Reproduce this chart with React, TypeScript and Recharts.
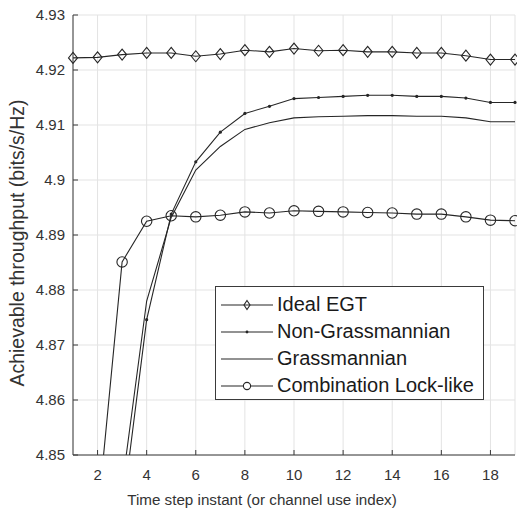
// Throughput vs. time step — four schemes, MATLAB-like boxed axes with inward ticks.

import { CartesianGrid, Legend, Line, LineChart, XAxis, YAxis } from 'recharts'

const timeSteps = [1, 2, 3, 4, 5, 6, 7, 8, 9, 10, 11, 12, 13, 14, 15, 16, 17, 18, 19]
const idealEgt = [
  4.9222, 4.9223, 4.9228, 4.9231, 4.9231, 4.9225, 4.9229, 4.9236, 4.9233, 4.9239, 4.9235, 4.9236, 4.9233, 4.9233,
  4.9231, 4.9231, 4.9226, 4.9219, 4.9219,
]
const nonGrassmannian = [
  null, null, 4.8393, 4.8746, 4.8938, 4.9033, 4.9087, 4.9121, 4.9134, 4.9148, 4.915, 4.9152, 4.9154, 4.9154, 4.9152,
  4.9152, 4.9149, 4.9141, 4.9141,
]
const grassmannian = [
  null, null, 4.8443, 4.878, 4.8932, 4.9018, 4.9061, 4.9092, 4.9104, 4.9113, 4.9115, 4.9116, 4.9117, 4.9117, 4.9116,
  4.9116, 4.9113, 4.9106, 4.9106,
]
const combinationLock = [
  null, 4.8386, 4.8851, 4.8925, 4.8935, 4.8933, 4.8936, 4.8942, 4.894, 4.8944, 4.8943, 4.8942, 4.8941, 4.894, 4.8938,
  4.8938, 4.8933, 4.8927, 4.8926,
]
const xTicks = [2, 4, 6, 8, 10, 12, 14, 16, 18]
const yTicks = [4.85, 4.86, 4.87, 4.88, 4.89, 4.9, 4.91, 4.92, 4.93]

const seriesNames = ['Ideal EGT', 'Non-Grassmannian', 'Grassmannian', 'Combination Lock-like']
const xTitle = 'Time step instant (or channel use index)'
const yTitle = 'Achievable throughput (bits/s/Hz)'

const data = timeSteps.map((t, i) => ({
  t,
  ideal: idealEgt[i],
  nonGrass: nonGrassmannian[i],
  grass: grassmannian[i],
  combo: combinationLock[i],
}))

const AXIS = '#3a3a3a'
const TEXT = '#333'
const LINE = '#262626'
const GRID = '#e3e3e3'
const FONT = '"Liberation Sans", Arial, Helvetica, sans-serif'

const fmtY = (v: number) => String(Number(v.toFixed(2)))

function BottomTick({ x, y, payload }: any) {
  return (
    <g>
      <line x1={x} x2={x} y1={y} y2={y - 5} stroke={AXIS} />
      <text x={x} y={y + 25} textAnchor="middle" fontSize={15} fill={TEXT} fontFamily={FONT}>
        {payload.value}
      </text>
    </g>
  )
}

function LeftTick({ x, y, payload }: any) {
  return (
    <g>
      <line x1={x} x2={x + 5} y1={y} y2={y} stroke={AXIS} />
      <text x={x - 8} y={y + 5} textAnchor="end" fontSize={15} fill={TEXT} fontFamily={FONT}>
        {fmtY(payload.value)}
      </text>
    </g>
  )
}

function TopTick({ x, y }: any) {
  return <line x1={x} x2={x} y1={y} y2={y + 5} stroke={AXIS} />
}

function RightTick({ x, y }: any) {
  return <line x1={x} x2={x - 5} y1={y} y2={y} stroke={AXIS} />
}

function Diamond({ cx, cy, w = 4.5, h = 5.5 }: any) {
  return <polygon points={`${cx},${cy - h} ${cx + w},${cy} ${cx},${cy + h} ${cx - w},${cy}`} fill="none" stroke={LINE} strokeWidth={1.1} />
}

const diamondDot = (p: any) =>
  p.cy == null ? <g key={`d${p.index}`} /> : <Diamond key={`d${p.index}`} cx={p.cx} cy={p.cy} />
const smallDot = (p: any) =>
  p.cy == null ? <g key={`s${p.index}`} /> : <circle key={`s${p.index}`} cx={p.cx} cy={p.cy} r={1.6} fill={LINE} />
const circleDot = (p: any) =>
  p.cy == null ? (
    <g key={`c${p.index}`} />
  ) : (
    <circle key={`c${p.index}`} cx={p.cx} cy={p.cy} r={5.2} fill="none" stroke={LINE} strokeWidth={1.1} />
  )

// axis titles sit a little off-centre in the source figure, so place them by hand
const XTitle = () => (
  <text x={262} y={505} textAnchor="middle" fontSize={15.2} fill={TEXT} fontFamily={FONT}>
    {xTitle}
  </text>
)
const YTitle = () => (
  <text
    x={24}
    y={243}
    transform="rotate(-90 24 243)"
    textAnchor="middle"
    fontSize={19.5}
    fill={TEXT}
    fontFamily={FONT}
  >
    {yTitle}
  </text>
)

function LegendBox() {
  const markers = [
    <Diamond cx={26} cy={10} w={3} h={4.5} />,
    <circle cx={26} cy={10} r={1.4} fill={LINE} />,
    null,
    <circle cx={26} cy={10} r={3.6} fill="white" stroke={LINE} strokeWidth={1.1} />,
  ]
  return (
    <div
      style={{
        width: 267,
        height: 108,
        border: `1px solid ${AXIS}`,
        background: 'white',
        boxSizing: 'content-box',
        paddingTop: 4,
        fontFamily: FONT,
        fontSize: 20,
        color: '#1a1a1a',
      }}
    >
      {seriesNames.map((name, i) => (
        <div key={name} style={{ display: 'flex', alignItems: 'center', height: 27 }}>
          <svg width={52} height={20} style={{ marginLeft: 5, flex: 'none' }}>
            <line x1={0} x2={52} y1={10} y2={10} stroke={LINE} strokeWidth={1.1} />
            {markers[i]}
          </svg>
          <span style={{ marginLeft: 4, whiteSpace: 'nowrap' }}>{name}</span>
        </div>
      ))}
    </div>
  )
}

export default function App() {
  return (
    <div style={{ position: 'absolute', left: 0, top: 0, background: 'white' }}>
      <LineChart width={517} height={511} data={data} margin={{ top: 15, right: 2, bottom: 0, left: 0 }}>
        <CartesianGrid stroke={GRID} />
        <XAxis
          dataKey="t"
          type="number"
          domain={[1, 19]}
          ticks={xTicks}
          height={56}
          stroke={AXIS}
          tickLine={false}
          tickSize={0}
          tickMargin={0}
          tick={<BottomTick />}
          label={{ content: <XTitle /> }}
        />
        <XAxis
          xAxisId="top"
          orientation="top"
          dataKey="t"
          type="number"
          domain={[1, 19]}
          ticks={xTicks}
          height={0}
          stroke={AXIS}
          tickLine={false}
          tickSize={0}
          tickMargin={0}
          tick={<TopTick />}
        />
        <YAxis
          type="number"
          domain={[4.85, 4.93]}
          ticks={yTicks}
          allowDataOverflow
          width={73}
          stroke={AXIS}
          tickLine={false}
          tickSize={0}
          tickMargin={0}
          tick={<LeftTick />}
          label={{ content: <YTitle /> }}
        />
        <YAxis
          yAxisId="right"
          orientation="right"
          type="number"
          domain={[4.85, 4.93]}
          ticks={yTicks}
          allowDataOverflow
          width={0}
          stroke={AXIS}
          tickLine={false}
          tickSize={0}
          tickMargin={0}
          tick={<RightTick />}
        />
        <Legend
          layout="vertical"
          align="center"
          verticalAlign="middle"
          wrapperStyle={{ left: 215, top: 286, width: 269, height: 114 }}
          content={() => <LegendBox />}
        />
        <Line
          dataKey="ideal"
          name={seriesNames[0]}
          stroke={LINE}
          strokeWidth={1.1}
          dot={diamondDot}
          activeDot={false}
          isAnimationActive={false}
        />
        <Line
          dataKey="nonGrass"
          name={seriesNames[1]}
          stroke={LINE}
          strokeWidth={1.1}
          dot={smallDot}
          activeDot={false}
          isAnimationActive={false}
        />
        <Line
          dataKey="grass"
          name={seriesNames[2]}
          stroke={LINE}
          strokeWidth={1.1}
          dot={false}
          activeDot={false}
          isAnimationActive={false}
        />
        <Line
          dataKey="combo"
          name={seriesNames[3]}
          stroke={LINE}
          strokeWidth={1.1}
          dot={circleDot}
          activeDot={false}
          isAnimationActive={false}
        />
      </LineChart>
    </div>
  )
}
